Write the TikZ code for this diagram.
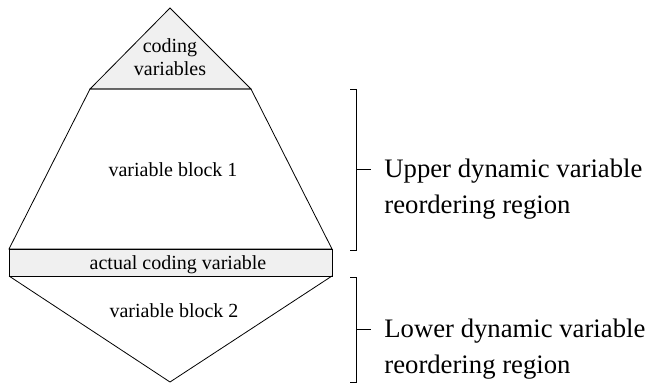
\documentclass[tikz,border=0pt]{standalone}
\usepackage{fontspec}
\setmainfont{Liberation Serif}
\begin{document}
\begin{tikzpicture}[x=1pt,y=-1pt,line width=0.8pt,
  blocktext/.style={inner sep=0pt,align=center,font=\fontsize{20}{23}\selectfont},
  regiontext/.style={inner sep=0pt,align=left,anchor=base west,font=\fontsize{26.7}{36}\selectfont},
  shaded/.style={draw,fill=gray!12}]
\useasboundingbox (0,0) rectangle (647,384);
\coordinate (A) at (170,8);
\coordinate (TL) at (90,89);
\coordinate (TR) at (251,89);
\coordinate (ML) at (9,249);
\coordinate (MR) at (332,249);
\coordinate (BL) at (9,276);
\coordinate (BR) at (332,276);
\coordinate (Z) at (170,382);
\draw[shaded] (A) -- (TR) -- (TL) -- cycle;
\draw (TL) -- (TR) -- (MR) -- (ML) -- cycle;
\draw[shaded] (ML) rectangle (BR);
\draw (BL) -- (Z) -- (BR);
\node[blocktext,anchor=base] (cv) at (170,75) {coding\\variables};
\node[blocktext,anchor=base] (vb1) at (173,176) {variable block 1};
\node[blocktext,anchor=base] (acv) at (178,269) {actual coding variable};
\node[blocktext,anchor=base] (vb2) at (174,317) {variable block 2};
% brackets on the right
\coordinate (ut) at (356,89);
\coordinate (ub) at (356,250);
\coordinate (um) at (356,169);
\coordinate (lt) at (356,277);
\coordinate (lb) at (356,382);
\coordinate (lm) at (356,329);
\draw ([xshift=-6pt]ut) -- (ut) -- (ub) -- ([xshift=-6pt]ub);
\draw (um) -- ++(15,0);
\draw ([xshift=-6pt]lt) -- (lt) -- (lb) -- ([xshift=-6pt]lb);
\draw (lm) -- ++(15,0);
\node[regiontext] (upper) at (384,213) {Upper dynamic variable\\reordering region};
\node[regiontext] (lower) at (384,373) {Lower dynamic variable\\reordering region};
\end{tikzpicture}
\end{document}
